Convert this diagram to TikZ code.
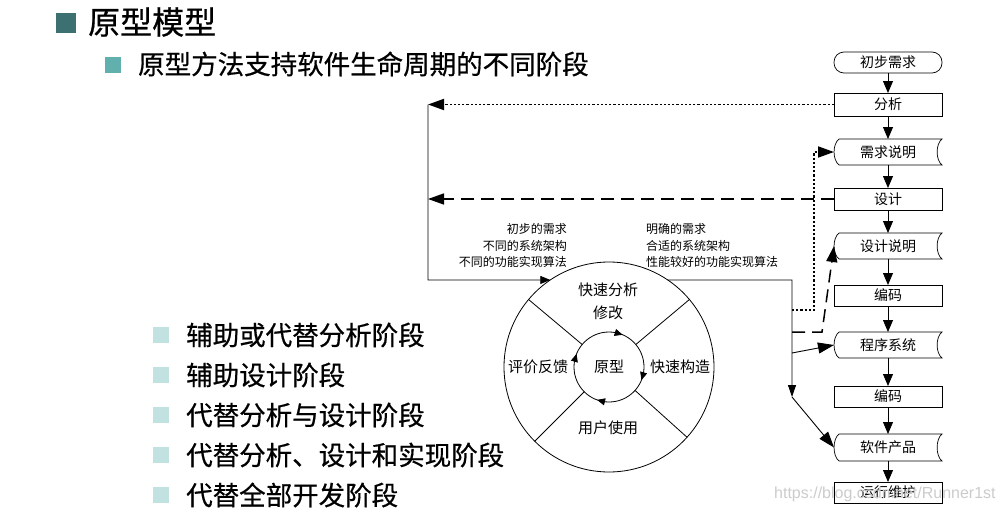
\documentclass[tikz,border=0pt]{standalone}
\usepackage{fontspec}
\newfontfamily\cjk{Noto Sans CJK SC}
\newfontfamily\cjkslide[FakeBold=0.6]{Noto Sans CJK SC}
\newfontfamily\wmfont{Liberation Sans}
\usetikzlibrary{arrows.meta,calc}
\definecolor{tealdark}{HTML}{3D7070}
\definecolor{tealmid}{HTML}{62B0AE}
\definecolor{teallight}{HTML}{C2E2E2}
\begin{document}
\begin{tikzpicture}[x=1pt,y=-1pt,
  box/.style={draw, line width=0.7pt, minimum width=108pt, minimum height=22pt, inner sep=0pt, outer sep=0pt, font=\cjk\fontsize{14}{16}\selectfont},
  docbox/.style={box, draw=none, minimum height=26pt},
  flow/.style={line width=0.8pt, -{Triangle[length=12pt,width=10pt]}},
  sidearrow/.style={line width=0.9pt, -{Triangle[length=16pt,width=11pt]}},
  dotconn/.style={line width=1.8pt, dash pattern=on 2.2pt off 2pt, -{Triangle[length=16pt,width=11pt]}},
  dashconn/.style={line width=1.5pt, dash pattern=on 13pt off 7pt, -{Triangle[length=16pt,width=11pt]}},
  lbl/.style={inner sep=0pt, font=\cjk\fontsize{12}{14}\selectfont},
  clbl/.style={inner sep=0pt, font=\cjk\fontsize{15}{17}\selectfont},
  bigtxt/.style={anchor=west, inner sep=0pt, font=\cjkslide\fontsize{26.5}{30}\selectfont},
  smallarrow/.style={line width=0.8pt, -{Triangle[length=8pt,width=7pt]}}
]
\useasboundingbox (0,0) rectangle (1005,514);
\fill[white] (0,0) rectangle (1005,514);

% slide text
\fill[tealdark] (56,13) rectangle (76,33);
\node[anchor=west, inner sep=0pt, font=\cjkslide\fontsize{32}{36}\selectfont] (title) at (88,22) {原型模型};
\fill[tealmid] (105,57) rectangle (121,73);
\node[bigtxt] (sub) at (138,64) {原型方法支持软件生命周期的不同阶段};
\foreach \yy/\tt [count=\i] in {335/辅助或代替分析阶段,375/辅助设计阶段,415/代替分析与设计阶段,455/代替分析、设计和实现阶段,495/代替全部开发阶段}{
  \fill[teallight] (153,\yy-8) rectangle (169,\yy+8);
  \node[bigtxt] (item\i) at (186,\yy) {\tt};
}

% flowchart
\node[box, rounded corners=10pt, minimum height=21pt] (cb) at (888,62.5) {初步需求};
\node[box, minimum height=23pt] (fx) at (888,104.5) {分析};
\node[docbox] (xq) at (888,152) {需求说明};
\node[box] (sj) at (888,199) {设计};
\node[docbox] (sm) at (888,246) {设计说明};
\node[box, minimum height=21pt] (bm1) at (888,295.5) {编码};
\node[docbox] (cx) at (888,345) {程序系统};
\node[box, minimum height=21pt] (bm2) at (888,396.5) {编码};
\node[docbox, minimum height=27pt] (cp) at (888,447.5) {软件产品};
\node[box, minimum height=21pt] (yx) at (888,492.5) {运行维护};

\foreach \n in {xq,sm,cx,cp}{
  \draw[line width=0.7pt] ([xshift=5pt]\n.north west) -- (\n.north east)
    .. controls ([xshift=-6.5pt,yshift=-5pt]\n.north east) and ([xshift=-6.5pt,yshift=5pt]\n.south east) .. (\n.south east)
    -- ([xshift=5pt]\n.south west)
    .. controls ([xshift=-1.6pt,yshift=5pt]\n.south west) and ([xshift=-1.6pt,yshift=-5pt]\n.north west) .. ([xshift=5pt]\n.north west) -- cycle;
}

\draw[flow] (cb) -- (fx);
\draw[flow] (fx) -- (xq);
\draw[flow] (xq) -- (sj);
\draw[flow] (sj) -- (sm);
\draw[flow] (sm) -- (bm1);
\draw[flow] (bm1) -- (cx);
\draw[flow] (cx) -- (bm2);
\draw[flow] (bm2) -- (cp);
\draw[flow] (cp) -- (yx);

% circle
\node[circle, draw, line width=0.8pt, minimum size=210pt, inner sep=0pt, outer sep=0pt] (C) at (609,367) {};
\node[circle, draw, line width=0.8pt, minimum size=70pt, inner sep=0pt, outer sep=0pt] (Ci) at (609,367) {};
\foreach \a in {40,140,-135,-42}{
  \draw[line width=0.8pt] (Ci.\a) -- (C.\a);
}
\draw[smallarrow] (Ci.79) -- (Ci.67);
\draw[smallarrow] (Ci.-10) -- (Ci.-22);
\draw[smallarrow] (Ci.-98) -- (Ci.-110);
\draw[smallarrow] (Ci.170) -- (Ci.158);

\node[clbl] (ks) at (608,290) {快速分析};
\node[clbl] (xg) at (608,313) {修改};
\node[clbl] (pj) at (538,367) {评价反馈};
\node[clbl] (yy) at (609,367) {原型};
\node[clbl] (gz) at (680,367) {快速构造};
\node[clbl] (yh) at (608,428) {用户使用};

% labels above circle
\node[lbl, anchor=east] (l1) at (567,229) {初步的需求};
\node[lbl, anchor=east] (l2) at (567,246) {不同的系统架构};
\node[lbl, anchor=east] (l3) at (567,262) {不同的功能实现算法};
\node[lbl, anchor=west] (r1) at (646,229) {明确的需求};
\node[lbl, anchor=west] (r2) at (646,246) {合适的系统架构};
\node[lbl, anchor=west] (r3) at (646,262) {性能较好的功能实现算法};

% left connectors
\coordinate (L1) at (428,104.5);
\coordinate (L2) at (428,199);
\coordinate (L3) at (428,280);
\draw[dotconn] (fx.west) -- (L1);
\draw[dashconn] (sj.west) -- (L2);
\draw[line width=0.8pt, -{Triangle[length=10pt,width=8pt]}] (L1) -- (L3) -- (C.124);

% right connectors
\coordinate (R0) at (792,280);
\coordinate (R1) at (792,310);
\coordinate (R2) at (792,332);
\coordinate (R3) at (792,353);
\coordinate (R4) at (792,397);
\coordinate (D1) at (814,310);
\coordinate (D2) at (814,152);
\coordinate (E1) at (822,332);
\draw[line width=0.8pt, -{Triangle[length=12pt,width=8pt]}] (C.56) -- (R0) -- (R4);
\draw[sidearrow] (R3) -- (cx.west);
\draw[sidearrow] (R4) -- (cp.west);
\draw[dotconn] (R1) -- (D1) -- (D2) -- (xq.west);
\draw[dashconn] (R2) -- (E1) -- (sm.west);

% watermark
\node[anchor=west, inner sep=0pt, text=black!20, font=\wmfont\fontsize{16}{18}\selectfont] (wm) at (774,494) {https://blog.csdn.net/Runner1st};
\end{tikzpicture}
\end{document}
